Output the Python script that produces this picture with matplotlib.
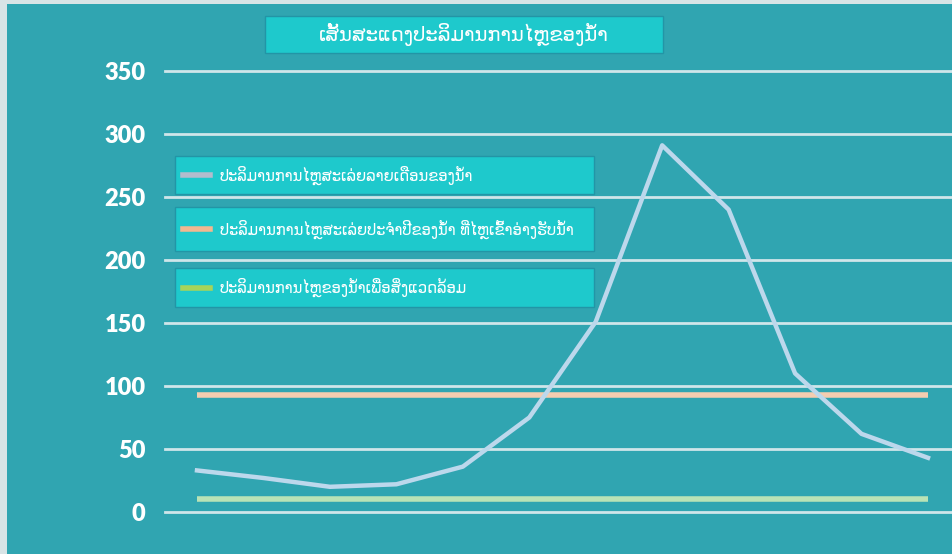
import matplotlib.pyplot as plt
from matplotlib.patches import Rectangle

# data
months = list(range(12))
monthly_flow = [33, 27, 20, 22, 36, 75, 151, 291, 240, 110, 62, 43]
yearly_flow = 93
env_flow = 10
y_ticks = [0, 50, 100, 150, 200, 250, 300, 350]

title = u'ເສັ້ນສະແດງປະລິມານການໄຫຼຂອງນ້ຳ'
labels = [u'ປະລິມານການໄຫຼສະເລ່ຍລາຍເດືອນຂອງນ້ຳ',
          u'ປະລິມານການໄຫຼສະເລ່ຍປະຈຳປີຂອງນ້ຳ ທີ່ໄຫຼເຂົ້າອ່າງຮັບນ້ຳ',
          u'ປະລິມານການໄຫຼຂອງນ້ຳເພື່ອສິ່ງແວດລ້ອມ']
key_colors = ['#b3bccd', '#f2b890', '#a6d45a']

bg = '#30a5b1'
box = '#1ec9cc'
W, H = 952, 554

fig = plt.figure(figsize=(W / 100, H / 100), dpi=100)
fig.patch.set_facecolor(bg)
# light frame on the left and top edges
fig.patches.append(Rectangle((0, 0), 7 / W, 1, transform=fig.transFigure,
                             facecolor='#d8e4e6', lw=0, zorder=0))
fig.patches.append(Rectangle((0, 1 - 4 / H), 1, 4 / H, transform=fig.transFigure,
                             facecolor='#d8e4e6', lw=0, zorder=0))

x0, x1 = 165, 952
y0, y1 = 512, 71
ax = fig.add_axes([x0 / W, 1 - y0 / H, (x1 - x0) / W, (y0 - y1) / H])
ax.set_facecolor(bg)
step = (928 - 197) / 11
ax.set_xlim(-(197 - x0) / step, 11 + (x1 - 928) / step)
ax.set_ylim(0, 350)
for s in ax.spines.values():
    s.set_visible(False)
ax.set_xticks([])
ax.set_yticks(y_ticks)
ax.tick_params(axis='y', length=0, pad=14)
for t in ax.get_yticklabels():
    t.set_color('white')
    t.set_fontweight('heavy')
    t.set_fontsize(17)
    t.set_family(['Lato', 'DejaVu Sans'])
for v in y_ticks:
    ax.axhline(v, color='#cfe6ea', lw=2, zorder=1, clip_on=False)

ax.plot(months, monthly_flow, color='#bcd8ec', lw=3.2, zorder=3)
ax.plot([months[0], months[-1]], [yearly_flow] * 2, color='#f4cdb0', lw=4,
        zorder=2, solid_capstyle='butt')
ax.plot([months[0], months[-1]], [env_flow] * 2, color='#b9e3b6', lw=4,
        zorder=2, solid_capstyle='butt')

lao = ['DejaVu Sans']


def px_box(l, t, r, b):
    fig.patches.append(Rectangle((l / W, 1 - b / H), (r - l) / W, (b - t) / H,
                                 transform=fig.transFigure, facecolor=box,
                                 edgecolor='#2295a6', lw=1, zorder=5))


px_box(265, 16, 663, 53)
fig.text(464 / W, 1 - 35 / H, title, color='white', fontsize=14,
         ha='center', va='center', family=lao, zorder=6)

legend_boxes = [(156, 194), (207, 251), (268, 307)]
for (t, b), lab, c in zip(legend_boxes, labels, key_colors):
    px_box(175, t, 594, b)
    ym = (t + b) / 2
    fig.lines.append(plt.Line2D([183 / W, 210 / W], [1 - ym / H] * 2,
                                transform=fig.transFigure, color=c, lw=4,
                                zorder=6))
    fig.text(220 / W, 1 - ym / H, lab, color='white', fontsize=10.5,
             ha='left', va='center', family=lao, zorder=6)

fig.savefig('out.png', dpi=100, facecolor=bg)
